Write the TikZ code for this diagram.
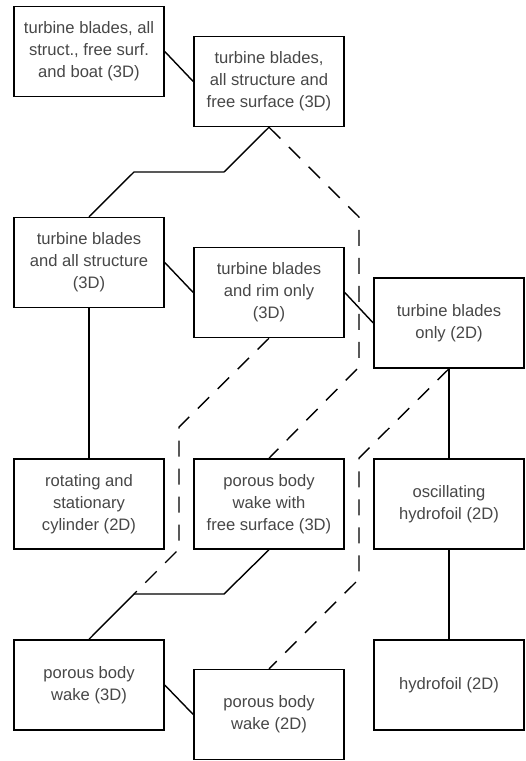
\documentclass[tikz,border=0pt]{standalone}
\usepackage{fontspec}
\setmainfont{Liberation Sans}
\begin{document}
\begin{tikzpicture}[x=1pt,y=-1pt,
  box/.style={draw=black,line width=1.5pt,rectangle,minimum width=150pt,minimum height=90pt,
    inner sep=0pt,align=center,text=black!72,font=\fontsize{16.6}{22}\selectfont},
  link/.style={line width=1.4pt,line join=miter},
  dlink/.style={line width=1.4pt,dash pattern=on 16pt off 12pt}]
\useasboundingbox (0,0) rectangle (526,761);
\node[box] (A) at (89,51.5) {turbine blades, all\\struct., free surf.\\and boat (3D)};
\node[box] (B) at (269,81.5) {turbine blades,\\all structure and\\free surface (3D)};
\node[box] (C) at (89,262.5) {turbine blades\\and all structure\\(3D)};
\node[box] (D) at (269,292.5) {turbine blades\\and rim only\\(3D)};
\node[box] (E) at (449,323) {turbine blades\\only (2D)};
\node[box] (F) at (89,504) {rotating and\\stationary\\cylinder (2D)};
\node[box] (G) at (269,504) {porous body\\wake with\\free surface (3D)};
\node[box] (H) at (449,504) {oscillating\\hydrofoil (2D)};
\node[box] (I) at (89,685) {porous body\\wake (3D)};
\node[box] (J) at (269,714.5) {porous body\\wake (2D)};
\node[box] (K) at (449,685) {hydrofoil (2D)};
\coordinate (b1) at (224,172);
\coordinate (b2) at (134,172);
\coordinate (g1) at (224,594);
\coordinate (g2) at (134,594);
\coordinate (d1) at (359,217);
\coordinate (d2) at (359,367);
\coordinate (d3) at (179,427);
\coordinate (d4) at (179,549);
\coordinate (d5) at (359,458);
\coordinate (d6) at (359,579);
% solid connectors
\draw[link] (A.east) -- (B.west);
\draw[link] (B.south) -- (b1) -- (b2) -- (C.north);
\draw[link] (C.east) -- (D.west);
\draw[link] (D.east) -- (E.west);
\draw[link] (C.south) -- (F.north);
\draw[link] (E.south) -- (H.north);
\draw[link] (H.south) -- (K.north);
\draw[link] (G.south) -- (g1) -- (g2) -- (I.north);
\draw[link] (I.east) -- (J.west);
% dashed connectors
\draw[dlink] (B.south) -- (d1) -- (d2) -- (G.north);
\draw[dlink] (D.south) -- (d3) -- (d4) -- (g2);
\draw[dlink] (E.south) -- (d5) -- (d6) -- (J.north);
\end{tikzpicture}
\end{document}
